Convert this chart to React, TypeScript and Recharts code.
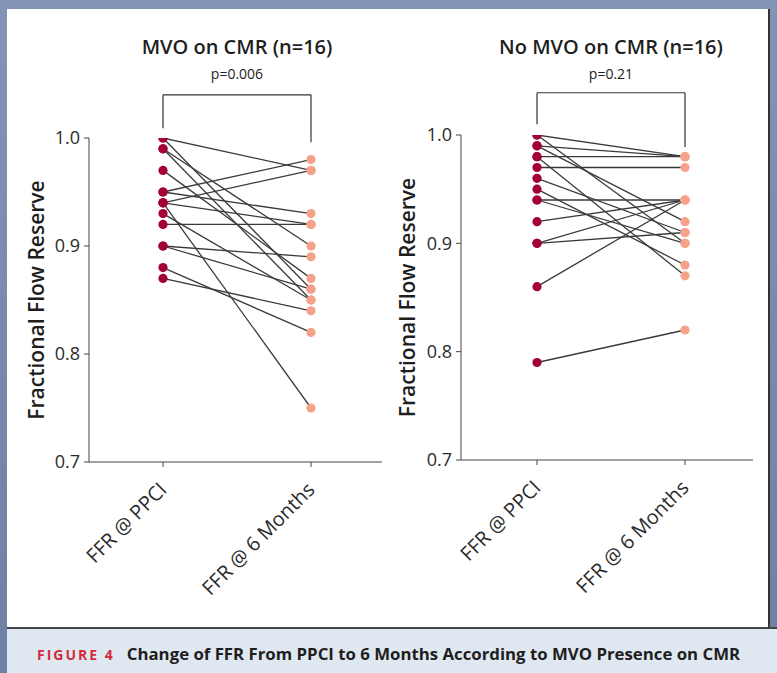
import React from 'react';
import { LineChart, Line, XAxis, YAxis, ReferenceLine } from 'recharts';

const categories = ['FFR @ PPCI', 'FFR @ 6 Months'];
const yTicks = [0.7, 0.8, 0.9, 1.0];

// MVO on CMR, one entry per patient (PPCI value paired with 6-month value)
const mvoPpci = [1.0, 1.0, 0.99, 0.99, 0.97, 0.95, 0.95, 0.94, 0.94, 0.94, 0.93, 0.92, 0.9, 0.9, 0.88, 0.87];
const mvoSixMonths = [0.97, 0.86, 0.9, 0.85, 0.87, 0.98, 0.93, 0.97, 0.92, 0.75, 0.85, 0.92, 0.89, 0.86, 0.82, 0.84];

// No MVO on CMR
const noMvoPpci = [1.0, 1.0, 0.99, 0.99, 0.98, 0.98, 0.97, 0.96, 0.95, 0.94, 0.94, 0.92, 0.9, 0.9, 0.86, 0.79];
const noMvoSixMonths = [0.98, 0.9, 0.98, 0.92, 0.98, 0.87, 0.97, 0.91, 0.88, 0.94, 0.9, 0.94, 0.94, 0.91, 0.94, 0.82];

const FONT = '"Open Sans", "Noto Sans", sans-serif';
const DARK_DOT = '#a3003a';
const LIGHT_DOT = '#f5a28a';

const buildRows = (ppci: number[], sixMonths: number[]) =>
  categories.map((cat, i) => {
    const row: Record<string, string | number> = { cat };
    (i === 0 ? ppci : sixMonths).forEach((v, k) => {
      row['p' + k] = v;
    });
    return row;
  });

const XTick = ({ x, y, payload }: any) => (
  <g transform={`translate(${x + 5},${y + 22}) rotate(-45)`}>
    <text x={0} y={0} textAnchor="end" fill="#2a2a2a" fontSize={20} fontFamily={FONT}>
      {payload.value}
    </text>
  </g>
);

type PanelProps = {
  left: number;
  top: number;
  bottom: number;
  marginRight: number;
  padLeft: number;
  padRight: number;
  ppci: number[];
  sixMonths: number[];
  bracketTop: number;
  legLeft: number;
  legRight: number;
  labelOffset: number;
};

const Panel = (p: PanelProps) => {
  const rows = buildRows(p.ppci, p.sixMonths);
  const keys = p.ppci.map((_, k) => 'p' + k);
  return (
    <div style={{ position: 'absolute', left: p.left, top: 0, width: 400, height: 620 }}>
      <LineChart
        width={400}
        height={620}
        data={rows}
        margin={{ top: p.top, right: p.marginRight, bottom: p.bottom, left: 29 }}
      >
        <XAxis
          dataKey="cat"
          type="category"
          scale="point"
          padding={{ left: p.padLeft, right: p.padRight }}
          height={100}
          tickSize={5}
          tick={<XTick />}
          stroke="#444"
          interval={0}
        />
        <YAxis
          type="number"
          domain={[0.7, 1.0]}
          ticks={yTicks}
          allowDataOverflow
          width={60}
          tickSize={5}
          tickMargin={4}
          stroke="#444"
          tick={{ fill: '#2a2a2a', fontSize: 18, fontFamily: FONT }}
          tickFormatter={(v: number) => v.toFixed(1)}
          label={{
            value: 'Fractional Flow Reserve',
            angle: -90,
            position: 'insideLeft',
            offset: p.labelOffset,
            style: { textAnchor: 'middle', fill: '#1e1e1e', fontSize: 21, fontWeight: 600, fontFamily: FONT },
          }}
        />
        <ReferenceLine
          segment={[{ x: categories[0], y: p.bracketTop }, { x: categories[1], y: p.bracketTop }]}
          stroke="#333"
          strokeWidth={1.2}
          ifOverflow="visible"
        />
        <ReferenceLine
          segment={[{ x: categories[0], y: p.bracketTop }, { x: categories[0], y: p.legLeft }]}
          stroke="#333"
          strokeWidth={1.2}
          ifOverflow="visible"
        />
        <ReferenceLine
          segment={[{ x: categories[1], y: p.bracketTop }, { x: categories[1], y: p.legRight }]}
          stroke="#333"
          strokeWidth={1.2}
          ifOverflow="visible"
        />
        {keys.map((k) => (
          <Line
            key={'l' + k}
            dataKey={k}
            stroke="#3a3a3a"
            strokeWidth={1.3}
            dot={false}
            activeDot={false}
            isAnimationActive={false}
          />
        ))}
        {keys.map((k) => (
          <Line
            key={'d' + k}
            dataKey={k}
            stroke="none"
            activeDot={false}
            isAnimationActive={false}
            dot={(d: any) => (
              <circle
                key={`${k}-${d.index}`}
                cx={d.cx}
                cy={d.cy}
                r={4.6}
                fill={d.index === 0 ? DARK_DOT : LIGHT_DOT}
              />
            )}
          />
        ))}
      </LineChart>
    </div>
  );
};

const Title = ({ center, title, pValue }: { center: number; title: string; pValue: string }) => (
  <>
    <div
      style={{
        position: 'absolute',
        left: center - 150,
        width: 300,
        top: 33,
        textAlign: 'center',
        fontFamily: FONT,
        fontSize: 20,
        fontWeight: 600,
        color: '#1e1e1e',
        lineHeight: '28px',
      }}
    >
      {title}
    </div>
    <div
      style={{
        position: 'absolute',
        left: center - 100,
        width: 200,
        top: 64,
        textAlign: 'center',
        fontFamily: FONT,
        fontSize: 14,
        color: '#1e1e1e',
        lineHeight: '20px',
      }}
    >
      {pValue}
    </div>
  </>
);

export default function App() {
  return (
    <div
      style={{
        position: 'absolute',
        left: 0,
        top: 0,
        width: 777,
        height: 673,
        overflow: 'hidden',
        background: 'linear-gradient(180deg, #8395b6 0%, #6e80a3 100%)',
      }}
    >
      <div
        style={{
          position: 'absolute',
          left: 7,
          top: 9,
          width: 761,
          height: 618,
          background: '#ffffff',
          borderRight: '2px solid #333',
        }}
      >
        <div style={{ position: 'absolute', left: -7, top: -9, width: 777, height: 640 }}>
          <Title center={237} title="MVO on CMR (n=16)" pValue="p=0.006" />
          <Title center={611} title="No MVO on CMR (n=16)" pValue="p=0.21" />
          <Panel
            left={0}
            top={138}
            bottom={58}
            marginRight={18}
            padLeft={74}
            padRight={71}
            ppci={mvoPpci}
            sixMonths={mvoSixMonths}
            bracketTop={1.04}
            legLeft={1.009}
            legRight={0.996}
            labelOffset={8}
          />
          <Panel
            left={372}
            top={135}
            bottom={60}
            marginRight={19}
            padLeft={76}
            padRight={68}
            ppci={noMvoPpci}
            sixMonths={noMvoSixMonths}
            bracketTop={1.039}
            legLeft={1.01}
            legRight={0.989}
            labelOffset={7}
          />
        </div>
      </div>
      <div
        style={{
          position: 'absolute',
          left: 7,
          top: 627,
          width: 770,
          height: 46,
          background: '#dfe8f0',
          borderTop: '2px solid #444',
          fontFamily: FONT,
          fontWeight: 700,
          lineHeight: '50px',
          whiteSpace: 'nowrap',
        }}
      >
        <span style={{ marginLeft: 30, color: '#d42a3c', fontSize: 14, letterSpacing: 2 }}>FIGURE 4</span>
        <span style={{ marginLeft: 12, color: '#1e1e1e', fontSize: 16.8 }}>
          Change of FFR From PPCI to 6 Months According to MVO Presence on CMR
        </span>
      </div>
    </div>
  );
}
